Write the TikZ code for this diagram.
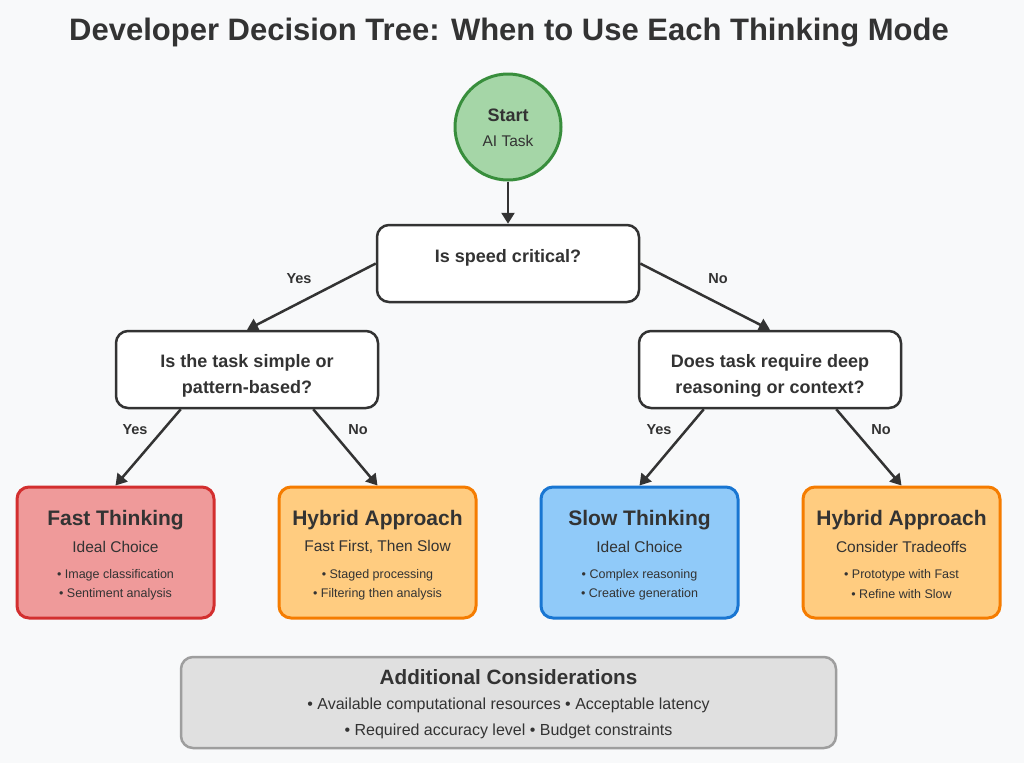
\documentclass[tikz,border=0pt]{standalone}
\usepackage{fontspec}
\setmainfont{Liberation Sans}
\usetikzlibrary{arrows.meta}
\definecolor{bgcol}{HTML}{F8F9FA}
\definecolor{ink}{HTML}{333333}
\definecolor{startfill}{HTML}{A5D6A7}
\definecolor{startline}{HTML}{388E3C}
\definecolor{fastfill}{HTML}{EF9A9A}
\definecolor{fastline}{HTML}{D32F2F}
\definecolor{hybfill}{HTML}{FFCC80}
\definecolor{hybline}{HTML}{F57C00}
\definecolor{slowfill}{HTML}{90CAF9}
\definecolor{slowline}{HTML}{1976D2}
\definecolor{notefill}{HTML}{E0E0E0}
\definecolor{noteline}{HTML}{9E9E9E}
\tikzset{
  qbox/.style={draw=ink,fill=white,line width=2.5pt,rounded corners=12pt,minimum width=262pt,minimum height=77pt},
  leaf/.style={line width=3pt,rounded corners=12pt,minimum width=197pt,minimum height=131pt},
  link/.style={draw=ink,line width=2.5pt,-{Triangle[length=11pt,width=13pt]}},
  qtext/.style={font=\fontsize{18}{21}\selectfont\bfseries,text=ink},
  lbl/.style={font=\fontsize{14.5}{17}\selectfont\bfseries,text=ink},
  ltitle/.style={font=\fontsize{21}{25}\selectfont\bfseries,text=ink},
  lsub/.style={font=\fontsize{15.5}{18}\selectfont,text=ink},
  litem/.style={font=\fontsize{12.5}{15}\selectfont,text=ink}
}
\begin{document}
\begin{tikzpicture}[x=1pt,y=-1pt]
\useasboundingbox[fill=bgcol](0,0) rectangle (1024,763);
\node[font=\fontsize{31}{37}\selectfont\bfseries,text=ink] (title) at (509,33) {Developer Decision Tree: When to Use Each Thinking Mode};
\node[circle,draw=startline,fill=startfill,line width=3pt,minimum size=106pt] (start) at (508,127) {};
\node[font=\fontsize{18}{21}\selectfont\bfseries,text=ink] (starttitle) at (508,115) {Start};
\node[lsub] (startsub) at (508,141) {AI Task};
\node[qbox] (speed) at (508,263.5) {};
\node[qtext] (speedtxt) at (508,258) {Is speed critical?};
\node[qbox] (simple) at (247,369.5) {};
\node[qtext] (simpletxt1) at (247,363) {Is the task simple or};
\node[qtext] (simpletxt2) at (247,389) {pattern-based?};
\node[qbox] (deep) at (770,369.5) {};
\node[qtext] (deeptxt1) at (770,363) {Does task require deep};
\node[qtext] (deeptxt2) at (770,389) {reasoning or context?};
\node[leaf,draw=fastline,fill=fastfill] (fast) at (115.5,552.5) {};
\node[ltitle] (fasttitle) at (115.5,520) {Fast Thinking};
\node[lsub] (fastsub) at (115.5,547) {Ideal Choice};
\node[litem] (fastitem1) at (115.5,575) {• Image classification};
\node[litem] (fastitem2) at (115.5,594) {• Sentiment analysis};
\node[leaf,draw=hybline,fill=hybfill] (hybA) at (377.5,552.5) {};
\node[ltitle] (hybAtitle) at (377.5,520) {Hybrid Approach};
\node[lsub] (hybAsub) at (377.5,547) {Fast First, Then Slow};
\node[litem] (hybAitem1) at (377.5,575) {• Staged processing};
\node[litem] (hybAitem2) at (377.5,594) {• Filtering then analysis};
\node[leaf,draw=slowline,fill=slowfill] (slow) at (639.5,552.5) {};
\node[ltitle] (slowtitle) at (639.5,520) {Slow Thinking};
\node[lsub] (slowsub) at (639.5,547) {Ideal Choice};
\node[litem] (slowitem1) at (639.5,575) {• Complex reasoning};
\node[litem] (slowitem2) at (639.5,594) {• Creative generation};
\node[leaf,draw=hybline,fill=hybfill] (hybB) at (901.5,552.5) {};
\node[ltitle] (hybBtitle) at (901.5,520) {Hybrid Approach};
\node[lsub] (hybBsub) at (901.5,547) {Consider Tradeoffs};
\node[litem] (hybBitem1) at (901.5,575) {• Prototype with Fast};
\node[litem] (hybBitem2) at (901.5,594) {• Refine with Slow};
\node[draw=noteline,fill=notefill,line width=2.5pt,rounded corners=12pt,minimum width=655pt,minimum height=91pt] (notes) at (508.5,702.5) {};
\node[font=\fontsize{20.7}{25}\selectfont\bfseries,text=ink] (notestitle) at (508.5,677) {Additional Considerations};
\node[font=\fontsize{16}{19}\selectfont,text=ink] (notesline1) at (508.5,705) {• Available computational resources • Acceptable latency};
\node[font=\fontsize{16}{19}\selectfont,text=ink] (notesline2) at (508.5,731) {• Required accuracy level • Budget constraints};
\draw[link] (start.south) -- (speed.north);
\draw[link] (speed.west) -- (simple.north);
\draw[link] (speed.east) -- (deep.north);
\draw[link] ([xshift=66pt]simple.south west) -- (fast.north);
\draw[link] ([xshift=-66pt]simple.south east) -- (hybA.north);
\draw[link] ([xshift=66pt]deep.south west) -- (slow.north);
\draw[link] ([xshift=-66pt]deep.south east) -- (hybB.north);
\node[lbl] (yes1) at (299,279) {Yes};
\node[lbl] (no1) at (718,279) {No};
\node[lbl] (yes2) at (135,430) {Yes};
\node[lbl] (no2) at (358,430) {No};
\node[lbl] (yes3) at (659,430) {Yes};
\node[lbl] (no3) at (881,430) {No};
\end{tikzpicture}
\end{document}
